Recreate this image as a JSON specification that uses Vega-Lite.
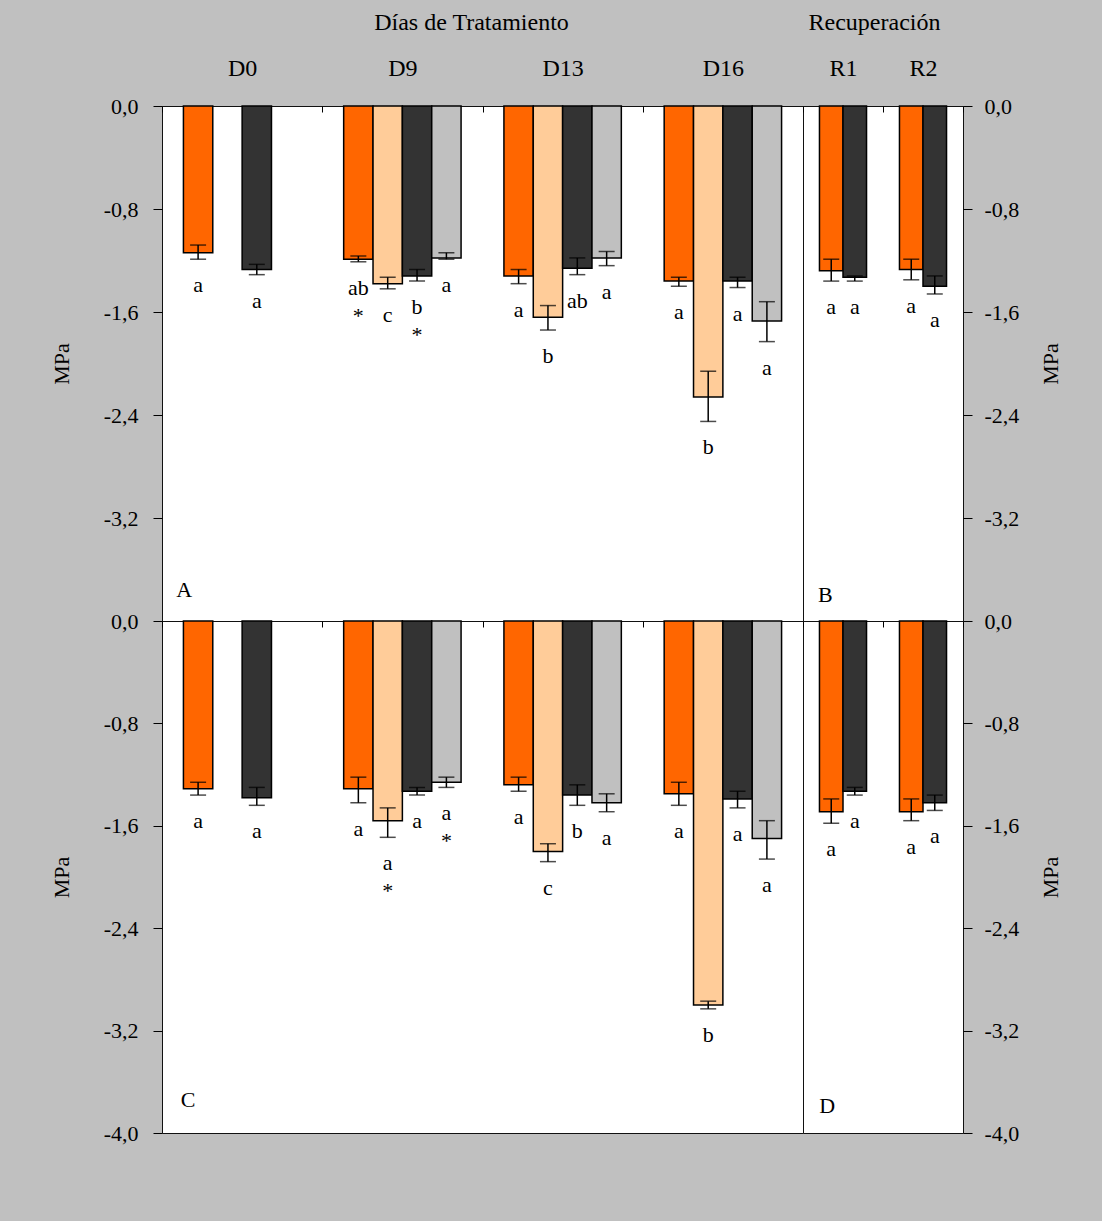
{
  "$schema": "https://vega.github.io/schema/vega-lite/v6.json",
  "background": "#c0c0c0",
  "padding": {"left": 49, "top": 9, "right": 40, "bottom": 77},
  "config": {
    "font": "Liberation Serif",
    "view": {"stroke": "#111111", "strokeWidth": 1, "fill": "#ffffff"},
    "axis": {
      "labelFont": "Liberation Serif", "labelFontSize": 22, "labelColor": "#000000",
      "titleFont": "Liberation Serif", "titleFontSize": 22, "titleFontWeight": "normal", "titleColor": "#000000",
      "grid": false, "domain": false, "tickColor": "#000000", "tickWidth": 1
    },
    "axisLeft": {"tickSize": 9, "labelPadding": 15, "titlePadding": 30},
    "axisRight": {"tickSize": 9, "labelPadding": 12, "titlePadding": 22, "titleAngle": 270, "titleBaseline": "top", "labelAlign": "left"},
    "axisTop": {"tickSize": -6, "tickBand": "extent", "labelAngle": 0, "labelPadding": 32, "titlePadding": 22, "labelFontSize": 24, "titleFontSize": 24},
    "text": {"font": "Liberation Serif", "fontSize": 22, "color": "#000000"}
  },
  "datasets": {
    "arriba": [
      {"sec": "T", "dia": "D0", "trat": "T1", "media": -1.14, "lo": -1.19, "hi": -1.08, "letra": "a"},
      {"sec": "T", "dia": "D0", "trat": "T3", "media": -1.27, "lo": -1.31, "hi": -1.23, "letra": "a"},
      {"sec": "T", "dia": "D9", "trat": "T1", "media": -1.19, "lo": -1.21, "hi": -1.165, "letra": "ab\n*"},
      {"sec": "T", "dia": "D9", "trat": "T2", "media": -1.38, "lo": -1.42, "hi": -1.33, "letra": "c"},
      {"sec": "T", "dia": "D9", "trat": "T3", "media": -1.32, "lo": -1.36, "hi": -1.27, "letra": "b\n*"},
      {"sec": "T", "dia": "D9", "trat": "T4", "media": -1.18, "lo": -1.19, "hi": -1.14, "letra": "a"},
      {"sec": "T", "dia": "D13", "trat": "T1", "media": -1.32, "lo": -1.38, "hi": -1.27, "letra": "a"},
      {"sec": "T", "dia": "D13", "trat": "T2", "media": -1.64, "lo": -1.74, "hi": -1.55, "letra": "b"},
      {"sec": "T", "dia": "D13", "trat": "T3", "media": -1.26, "lo": -1.31, "hi": -1.18, "letra": "ab"},
      {"sec": "T", "dia": "D13", "trat": "T4", "media": -1.18, "lo": -1.24, "hi": -1.13, "letra": "a"},
      {"sec": "T", "dia": "D16", "trat": "T1", "media": -1.36, "lo": -1.40, "hi": -1.33, "letra": "a"},
      {"sec": "T", "dia": "D16", "trat": "T2", "media": -2.26, "lo": -2.45, "hi": -2.06, "letra": "b"},
      {"sec": "T", "dia": "D16", "trat": "T3", "media": -1.36, "lo": -1.41, "hi": -1.33, "letra": "a"},
      {"sec": "T", "dia": "D16", "trat": "T4", "media": -1.67, "lo": -1.83, "hi": -1.52, "letra": "a"},
      {"sec": "R", "dia": "R1", "trat": "T1", "media": -1.28, "lo": -1.36, "hi": -1.19, "letra": "a"},
      {"sec": "R", "dia": "R1", "trat": "T3", "media": -1.33, "lo": -1.36, "hi": -1.32, "letra": "a"},
      {"sec": "R", "dia": "R2", "trat": "T1", "media": -1.27, "lo": -1.35, "hi": -1.19, "letra": "a"},
      {"sec": "R", "dia": "R2", "trat": "T3", "media": -1.40, "lo": -1.46, "hi": -1.32, "letra": "a"}
    ],
    "abajo": [
      {"sec": "T", "dia": "D0", "trat": "T1", "media": -1.31, "lo": -1.36, "hi": -1.26, "letra": "a"},
      {"sec": "T", "dia": "D0", "trat": "T3", "media": -1.38, "lo": -1.44, "hi": -1.30, "letra": "a"},
      {"sec": "T", "dia": "D9", "trat": "T1", "media": -1.31, "lo": -1.42, "hi": -1.22, "letra": "a"},
      {"sec": "T", "dia": "D9", "trat": "T2", "media": -1.56, "lo": -1.69, "hi": -1.46, "letra": "a\n*"},
      {"sec": "T", "dia": "D9", "trat": "T3", "media": -1.33, "lo": -1.36, "hi": -1.30, "letra": "a"},
      {"sec": "T", "dia": "D9", "trat": "T4", "media": -1.26, "lo": -1.30, "hi": -1.22, "letra": "a\n*"},
      {"sec": "T", "dia": "D13", "trat": "T1", "media": -1.28, "lo": -1.33, "hi": -1.22, "letra": "a"},
      {"sec": "T", "dia": "D13", "trat": "T2", "media": -1.80, "lo": -1.88, "hi": -1.74, "letra": "c"},
      {"sec": "T", "dia": "D13", "trat": "T3", "media": -1.36, "lo": -1.44, "hi": -1.28, "letra": "b"},
      {"sec": "T", "dia": "D13", "trat": "T4", "media": -1.42, "lo": -1.49, "hi": -1.35, "letra": "a"},
      {"sec": "T", "dia": "D16", "trat": "T1", "media": -1.35, "lo": -1.44, "hi": -1.26, "letra": "a"},
      {"sec": "T", "dia": "D16", "trat": "T2", "media": -3.00, "lo": -3.03, "hi": -2.97, "letra": "b"},
      {"sec": "T", "dia": "D16", "trat": "T3", "media": -1.39, "lo": -1.46, "hi": -1.33, "letra": "a"},
      {"sec": "T", "dia": "D16", "trat": "T4", "media": -1.70, "lo": -1.86, "hi": -1.56, "letra": "a"},
      {"sec": "R", "dia": "R1", "trat": "T1", "media": -1.49, "lo": -1.58, "hi": -1.39, "letra": "a"},
      {"sec": "R", "dia": "R1", "trat": "T3", "media": -1.33, "lo": -1.36, "hi": -1.30, "letra": "a"},
      {"sec": "R", "dia": "R2", "trat": "T1", "media": -1.49, "lo": -1.56, "hi": -1.39, "letra": "a"},
      {"sec": "R", "dia": "R2", "trat": "T3", "media": -1.42, "lo": -1.48, "hi": -1.36, "letra": "a"}
    ]
  },
  "columns": 2,
  "spacing": 0,
  "align": "each",
  "bounds": "flush",
  "resolve": {"scale": {"xOffset": "independent"}},
  "concat": [
    {
      "width": 641, "height": 515,
      "data": {"name": "arriba"},
      "transform": [{"filter": "datum.sec === 'T'"}],
      "encoding": {
        "x": {"field": "dia", "type": "nominal", "scale": {"domain": ["D0", "D9", "D13", "D16"], "paddingInner": 0, "paddingOuter": 0}, "axis": {"orient": "top", "title": "Días de Tratamiento", "titleX": 309}},
        "xOffset": {"field": "trat", "type": "nominal", "scale": {"domain": ["T1", "T2", "T3", "T4"], "paddingInner": 0, "paddingOuter": 0.73}}
      },
      "layer": [
        {"mark": {"type": "bar", "stroke": "#000000", "strokeWidth": 1.5},
         "encoding": {
           "y": {"field": "media", "type": "quantitative", "scale": {"domain": [-4, 0], "nice": false, "zero": false}, "axis": {"orient": "left", "title": "MPa", "values": [0, -0.8, -1.6, -2.4, -3.2], "labelExpr": "replace(replace(format(datum.value, '.1f'), '.', ','), '\u2212', '-')"}},
           "color": {"field": "trat", "type": "nominal", "scale": {"domain": ["T1", "T2", "T3", "T4"], "range": ["#ff6600", "#ffcc99", "#333333", "#c0c0c0"]}, "legend": null}}},
        {"mark": {"type": "rule", "color": "#000000", "strokeWidth": 1.5}, "encoding": {"y": {"field": "lo", "type": "quantitative"}, "y2": {"field": "hi"}}},
        {"mark": {"type": "tick", "color": "#000000", "size": 16, "thickness": 1.5}, "encoding": {"y": {"field": "lo", "type": "quantitative"}}},
        {"mark": {"type": "tick", "color": "#000000", "size": 16, "thickness": 1.5}, "encoding": {"y": {"field": "hi", "type": "quantitative"}}},
        {"mark": {"type": "text", "baseline": "alphabetic", "dy": 33, "lineBreak": "\n", "lineHeight": 28}, "encoding": {"y": {"field": "lo", "type": "quantitative"}, "text": {"field": "letra"}}},
        {"transform": [{"filter": "datum.dia === 'D0' && datum.trat === 'T1'"}], "mark": {"type": "text", "baseline": "middle", "dx": -14}, "encoding": {"y": {"datum": -3.76}, "text": {"value": "A"}}}
      ]
    },
    {
      "width": 160, "height": 515,
      "data": {"name": "arriba"},
      "transform": [{"filter": "datum.sec === 'R'"}],
      "encoding": {
        "x": {"field": "dia", "type": "nominal", "scale": {"domain": ["R1", "R2"], "paddingInner": 0, "paddingOuter": 0}, "axis": {"orient": "top", "title": "Recuperación", "titleX": 71}},
        "xOffset": {"field": "trat", "type": "nominal", "scale": {"domain": ["T1", "T3"], "paddingInner": 0, "paddingOuter": 0.7}}
      },
      "layer": [
        {"mark": {"type": "bar", "stroke": "#000000", "strokeWidth": 1.5},
         "encoding": {
           "y": {"field": "media", "type": "quantitative", "scale": {"domain": [-4, 0], "nice": false, "zero": false}, "axis": {"orient": "right", "title": "MPa", "values": [0, -0.8, -1.6, -2.4, -3.2], "labelExpr": "replace(replace(format(datum.value, '.1f'), '.', ','), '\u2212', '-')"}},
           "color": {"field": "trat", "type": "nominal", "scale": {"domain": ["T1", "T2", "T3", "T4"], "range": ["#ff6600", "#ffcc99", "#333333", "#c0c0c0"]}, "legend": null}}},
        {"mark": {"type": "rule", "color": "#000000", "strokeWidth": 1.5}, "encoding": {"y": {"field": "lo", "type": "quantitative"}, "y2": {"field": "hi"}}},
        {"mark": {"type": "tick", "color": "#000000", "size": 16, "thickness": 1.5}, "encoding": {"y": {"field": "lo", "type": "quantitative"}}},
        {"mark": {"type": "tick", "color": "#000000", "size": 16, "thickness": 1.5}, "encoding": {"y": {"field": "hi", "type": "quantitative"}}},
        {"mark": {"type": "text", "baseline": "alphabetic", "dy": 33, "lineBreak": "\n", "lineHeight": 28}, "encoding": {"y": {"field": "lo", "type": "quantitative"}, "text": {"field": "letra"}}},
        {"transform": [{"filter": "datum.dia === 'R1' && datum.trat === 'T1'"}], "mark": {"type": "text", "baseline": "middle", "dx": -6}, "encoding": {"y": {"datum": -3.8}, "text": {"value": "B"}}}
      ]
    },
    {
      "width": 641, "height": 512,
      "data": {"name": "abajo"},
      "transform": [{"filter": "datum.sec === 'T'"}],
      "encoding": {
        "x": {"field": "dia", "type": "nominal", "scale": {"domain": ["D0", "D9", "D13", "D16"], "paddingInner": 0, "paddingOuter": 0}, "axis": {"orient": "top", "title": null, "labels": false}},
        "xOffset": {"field": "trat", "type": "nominal", "scale": {"domain": ["T1", "T2", "T3", "T4"], "paddingInner": 0, "paddingOuter": 0.73}}
      },
      "layer": [
        {"mark": {"type": "bar", "stroke": "#000000", "strokeWidth": 1.5},
         "encoding": {
           "y": {"field": "media", "type": "quantitative", "scale": {"domain": [-4, 0], "nice": false, "zero": false}, "axis": {"orient": "left", "title": "MPa", "values": [0, -0.8, -1.6, -2.4, -3.2, -4], "labelExpr": "replace(replace(format(datum.value, '.1f'), '.', ','), '\u2212', '-')"}},
           "color": {"field": "trat", "type": "nominal", "scale": {"domain": ["T1", "T2", "T3", "T4"], "range": ["#ff6600", "#ffcc99", "#333333", "#c0c0c0"]}, "legend": null}}},
        {"mark": {"type": "rule", "color": "#000000", "strokeWidth": 1.5}, "encoding": {"y": {"field": "lo", "type": "quantitative"}, "y2": {"field": "hi"}}},
        {"mark": {"type": "tick", "color": "#000000", "size": 16, "thickness": 1.5}, "encoding": {"y": {"field": "lo", "type": "quantitative"}}},
        {"mark": {"type": "tick", "color": "#000000", "size": 16, "thickness": 1.5}, "encoding": {"y": {"field": "hi", "type": "quantitative"}}},
        {"mark": {"type": "text", "baseline": "alphabetic", "dy": 33, "lineBreak": "\n", "lineHeight": 28}, "encoding": {"y": {"field": "lo", "type": "quantitative"}, "text": {"field": "letra"}}},
        {"transform": [{"filter": "datum.dia === 'D0' && datum.trat === 'T1'"}], "mark": {"type": "text", "baseline": "middle", "dx": -10}, "encoding": {"y": {"datum": -3.74}, "text": {"value": "C"}}}
      ]
    },
    {
      "width": 160, "height": 512,
      "data": {"name": "abajo"},
      "transform": [{"filter": "datum.sec === 'R'"}],
      "encoding": {
        "x": {"field": "dia", "type": "nominal", "scale": {"domain": ["R1", "R2"], "paddingInner": 0, "paddingOuter": 0}, "axis": {"orient": "top", "title": null, "labels": false}},
        "xOffset": {"field": "trat", "type": "nominal", "scale": {"domain": ["T1", "T3"], "paddingInner": 0, "paddingOuter": 0.7}}
      },
      "layer": [
        {"mark": {"type": "bar", "stroke": "#000000", "strokeWidth": 1.5},
         "encoding": {
           "y": {"field": "media", "type": "quantitative", "scale": {"domain": [-4, 0], "nice": false, "zero": false}, "axis": {"orient": "right", "title": "MPa", "values": [0, -0.8, -1.6, -2.4, -3.2, -4], "labelExpr": "replace(replace(format(datum.value, '.1f'), '.', ','), '\u2212', '-')"}},
           "color": {"field": "trat", "type": "nominal", "scale": {"domain": ["T1", "T2", "T3", "T4"], "range": ["#ff6600", "#ffcc99", "#333333", "#c0c0c0"]}, "legend": null}}},
        {"mark": {"type": "rule", "color": "#000000", "strokeWidth": 1.5}, "encoding": {"y": {"field": "lo", "type": "quantitative"}, "y2": {"field": "hi"}}},
        {"mark": {"type": "tick", "color": "#000000", "size": 16, "thickness": 1.5}, "encoding": {"y": {"field": "lo", "type": "quantitative"}}},
        {"mark": {"type": "tick", "color": "#000000", "size": 16, "thickness": 1.5}, "encoding": {"y": {"field": "hi", "type": "quantitative"}}},
        {"mark": {"type": "text", "baseline": "alphabetic", "dy": 33, "lineBreak": "\n", "lineHeight": 28}, "encoding": {"y": {"field": "lo", "type": "quantitative"}, "text": {"field": "letra"}}},
        {"transform": [{"filter": "datum.dia === 'R1' && datum.trat === 'T1'"}], "mark": {"type": "text", "baseline": "middle", "dx": -4}, "encoding": {"y": {"datum": -3.79}, "text": {"value": "D"}}}
      ]
    }
  ]
}
